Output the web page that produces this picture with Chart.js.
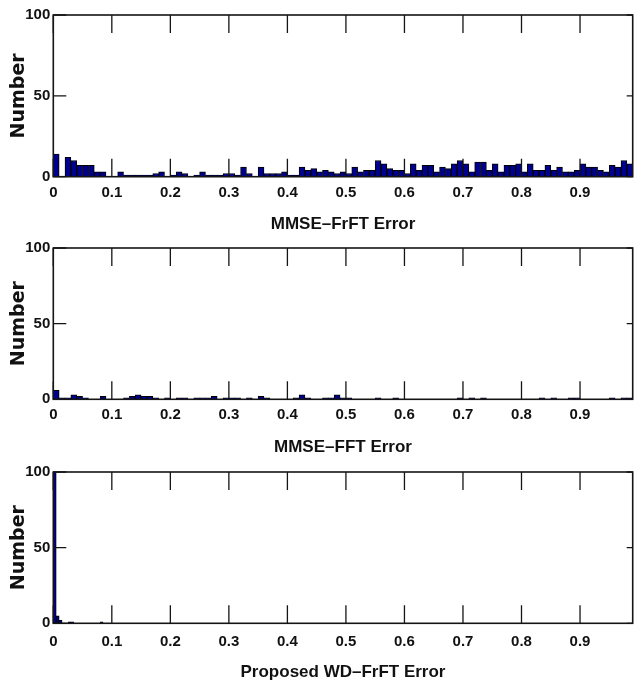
<!DOCTYPE html>
<html>
<head>
<meta charset="utf-8">
<script src="https://cdn.jsdelivr.net/npm/chart.js@4.4.0/dist/chart.umd.min.js"></script>
<style>
  html, body { margin: 0; padding: 0; background: #fff; }
  #wrap { position: relative; width: 634px; height: 683px; overflow: hidden; }
  .panel { position: absolute; left: 0; width: 634px; }
  canvas { display: block; }
</style>
</head>
<body>
<div id="wrap">
  <div class="panel" style="top:0"><canvas id="c1" width="634" height="236"></canvas></div>
  <div class="panel" style="top:236px"><canvas id="c2" width="634" height="224"></canvas></div>
  <div class="panel" style="top:460px"><canvas id="c3" width="634" height="223"></canvas></div>
</div>
<script>
// tick labels
const xTicks = [0, 0.1, 0.2, 0.3, 0.4, 0.5, 0.6, 0.7, 0.8, 0.9];
const yTicks = [0, 50, 100];
const xMax = 0.99;

const yTitle = 'Number';
const xTitles = ['MMSE–FrFT Error', 'MMSE–FFT Error', 'Proposed WD–FrFT Error'];

// histogram counts, bins of 0.01 starting at 0
const binFrft = 0.01;
const countsFrft = [
  14, 0, 12, 10, 7, 7, 7, 3, 3, 0,
  0, 3, 1, 1, 1, 1, 1, 2, 3, 0,
  1, 3, 2, 0, 1, 3, 1, 1, 1, 2,
  2, 1, 6, 2, 0, 6, 2, 2, 2, 3,
  1, 1, 6, 4, 5, 3, 4, 3, 2, 3,
  2, 6, 3, 4, 4, 10, 8, 5, 4, 4,
  2, 8, 4, 7, 7, 3, 6, 5, 8, 10,
  8, 3, 9, 9, 4, 8, 3, 7, 7, 8,
  3, 8, 4, 4, 7, 4, 6, 3, 3, 4,
  8, 6, 6, 4, 3, 7, 6, 10, 8
];

const binFft = 0.01;
const countsFft = [
  6, 1, 1, 3, 2, 1, 0, 0, 2, 0,
  0, 0, 1, 2, 3, 2, 2, 1, 0, 1,
  0, 1, 1, 0, 1, 1, 1, 2, 0, 1,
  1, 1, 0, 1, 0, 2, 1, 0, 0, 0,
  0, 1, 3, 1, 0, 0, 1, 1, 3, 1,
  1, 0, 0, 0, 0, 1, 0, 0, 1, 0,
  0, 0, 0, 0, 0, 0, 0, 0, 0, 1,
  0, 1, 0, 1, 0, 0, 0, 0, 0, 0,
  0, 0, 0, 1, 0, 1, 0, 0, 1, 1,
  0, 0, 0, 0, 0, 1, 0, 1, 1
];

// proposed method: finer bins of 0.005, only the first 0.1 is populated
const binWd = 0.005;
const countsWd = [
  130, 5, 2, 0, 0, 1, 1, 0, 0, 0,
  0, 0, 0, 0, 0, 0, 1, 0, 0, 0
];

const tickFont = { family: "'Liberation Sans Narrow', 'Arial Narrow', 'Liberation Sans', sans-serif", weight: 'bold', size: 15, lineHeight: 1.2 };
const xTitleFont = { family: "'Liberation Sans Narrow', 'Arial Narrow', 'Liberation Sans', sans-serif", weight: 'bold', size: 17, lineHeight: 1 };
const yTitleFont = { family: "'DejaVu Sans', sans-serif", weight: 'bold', size: 19, lineHeight: 1 };

// matlab style box with inward ticks
const matlabBox = {
  id: 'matlabBox',
  afterDatasetsDraw(chart) {
    const { ctx, chartArea: a, scales: { x, y } } = chart;
    ctx.save();
    ctx.strokeStyle = '#151515';
    ctx.lineWidth = 1.6;
    ctx.strokeRect(a.left, a.top, a.right - a.left, a.bottom - a.top);
    ctx.lineWidth = 1.3;
    ctx.beginPath();
    x.ticks.forEach(t => {
      const px = x.getPixelForValue(t.value);
      ctx.moveTo(px, a.bottom); ctx.lineTo(px, a.bottom - 18);
      ctx.moveTo(px, a.top); ctx.lineTo(px, a.top + 18);
    });
    y.ticks.forEach(t => {
      const py = y.getPixelForValue(t.value);
      ctx.moveTo(a.left, py); ctx.lineTo(a.left + 13, py);
      ctx.moveTo(a.right, py); ctx.lineTo(a.right - 6, py);
    });
    ctx.stroke();
    ctx.restore();
  }
};

function makePanel(id, counts, binWidth, title, lay) {
  const data = counts.map((c, i) => ({ x: (i + 0.5) * binWidth, y: c }));
  return new Chart(document.getElementById(id), {
    type: 'bar',
    data: {
      datasets: [{
        data: data,
        backgroundColor: '#00008f',
        borderColor: '#000',
        borderWidth: 1,
        barPercentage: 1,
        categoryPercentage: 1,
        clip: 0
      }]
    },
    options: {
      responsive: false,
      animation: false,
      events: [],
      layout: { padding: { top: lay.padTop, right: 1.3, left: 0, bottom: 0 } },
      plugins: { legend: { display: false }, tooltip: { enabled: false } },
      scales: {
        x: {
          type: 'linear',
          min: 0,
          max: xMax,
          offset: false,
          grid: { display: false, drawTicks: false },
          border: { display: false },
          afterBuildTicks: s => { s.ticks = xTicks.map(v => ({ value: v })); },
          afterFit: s => { s.height = lay.xHeight; },
          ticks: {
            autoSkip: false,
            maxRotation: 0,
            padding: lay.tickPad,
            color: '#111',
            font: tickFont,
            callback: v => String(Math.round(v * 10) / 10)
          },
          title: {
            display: true,
            text: title,
            color: '#111',
            font: xTitleFont,
            padding: { top: 0, bottom: lay.titlePad }
          }
        },
        y: {
          min: 0,
          max: 100,
          grid: { display: false, drawTicks: false },
          border: { display: false },
          afterBuildTicks: s => { s.ticks = yTicks.map(v => ({ value: v })); },
          afterFit: s => { s.width = 53.3; },
          ticks: { padding: 3, color: '#111', font: tickFont },
          title: {
            display: true,
            text: yTitle,
            color: '#111',
            font: yTitleFont,
            padding: { top: 9.3, bottom: 0 }
          }
        }
      }
    },
    plugins: [matlabBox]
  });
}

makePanel('c1', countsFrft, binFrft, xTitles[0], { padTop: 15, xHeight: 59.3, tickPad: 6.7, titlePad: 3 });
makePanel('c2', countsFft, binFft, xTitles[1], { padTop: 3.5, xHeight: 60.7, tickPad: 6.6, titlePad: 4.5 });
makePanel('c3', countsWd, binWd, xTitles[2], { padTop: 3.3, xHeight: 59.7, tickPad: 9.6, titlePad: 2.5 });
</script>
</body>
</html>
